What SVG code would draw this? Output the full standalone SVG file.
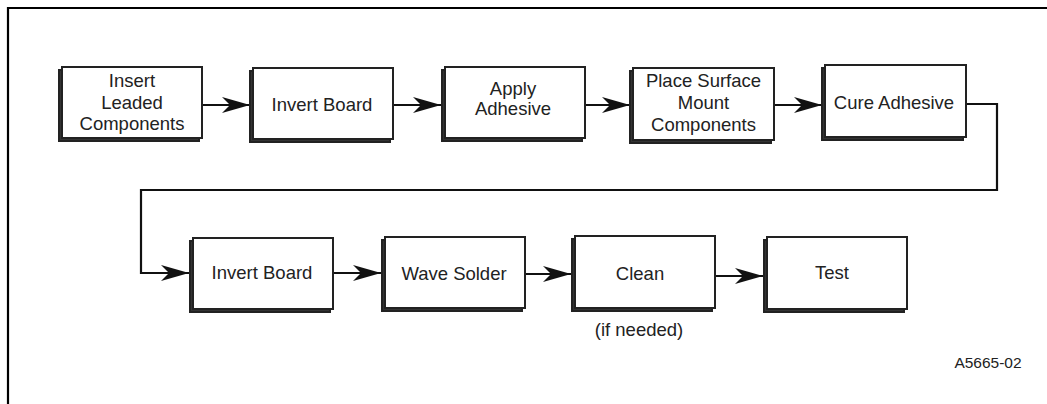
<svg xmlns="http://www.w3.org/2000/svg" width="1047" height="404" viewBox="0 0 1047 404">
<style>
.bk{fill:#333;stroke:#222;stroke-width:2}
.fr{fill:#fff;stroke:#222;stroke-width:2}
.t{font-family:"Liberation Sans",Arial,sans-serif;font-size:18.5px;fill:#222;text-anchor:middle}
.s{font-family:"Liberation Sans",Arial,sans-serif;font-size:15.5px;fill:#222;text-anchor:middle}
.c{fill:none;stroke:#111;stroke-width:2.2}
</style>
<defs>
<marker id="ah" markerUnits="userSpaceOnUse" markerWidth="30" markerHeight="18" viewBox="-29 -9 30 18" refX="0" refY="0" orient="auto">
<path d="M0,0 L-28,-8 L-20,0 L-28,8 Z" fill="#111"/>
</marker>
</defs>
<rect width="1047" height="404" fill="#fff"/>
<path d="M8,404 V8 H1047" fill="none" stroke="#000" stroke-width="2.2"/>

<g id="connectors">
<path class="c" d="M202,105 H250" marker-end="url(#ah)"/>
<path class="c" d="M393,105 H441" marker-end="url(#ah)"/>
<path class="c" d="M585,105 H630" marker-end="url(#ah)"/>
<path class="c" d="M774,105 H822" marker-end="url(#ah)"/>
<path class="c" d="M966,104 H997 V190 H141 V273 H189" marker-end="url(#ah)"/>
<path class="c" d="M333,273 H381" marker-end="url(#ah)"/>
<path class="c" d="M525,274 H571" marker-end="url(#ah)"/>
<path class="c" d="M715,276 H763" marker-end="url(#ah)"/>
</g>

<g id="n1">
<rect class="bk" x="59" y="70" width="140" height="71"/>
<rect class="fr" x="62" y="67" width="140" height="71"/>
<text class="t" x="132" y="87">Insert</text>
<text class="t" x="132" y="108.5">Leaded</text>
<text class="t" x="132" y="130">Components</text>
</g>
<g id="n2">
<rect class="bk" x="250" y="71" width="140" height="71"/>
<rect class="fr" x="253" y="68" width="140" height="71"/>
<text class="t" x="322" y="111">Invert Board</text>
</g>
<g id="n3">
<rect class="bk" x="442" y="70" width="140" height="71"/>
<rect class="fr" x="445" y="67" width="140" height="71"/>
<text class="t" x="513" y="95">Apply</text>
<text class="t" x="513" y="115">Adhesive</text>
</g>
<g id="n4">
<rect class="bk" x="630" y="71" width="141" height="72"/>
<rect class="fr" x="633" y="68" width="141" height="72"/>
<text class="t" x="703.5" y="87">Place Surface</text>
<text class="t" x="703.5" y="109">Mount</text>
<text class="t" x="703.5" y="131">Components</text>
</g>
<g id="n5">
<rect class="bk" x="822" y="68" width="141" height="72"/>
<rect class="fr" x="825" y="65" width="141" height="72"/>
<text class="t" x="894" y="109">Cure Adhesive</text>
</g>

<g id="n6">
<rect class="bk" x="190" y="241" width="140" height="71"/>
<rect class="fr" x="193" y="238" width="140" height="71"/>
<text class="t" x="262" y="279">Invert Board</text>
</g>
<g id="n7">
<rect class="bk" x="382" y="240" width="140" height="71"/>
<rect class="fr" x="385" y="237" width="140" height="71"/>
<text class="t" x="454" y="280">Wave Solder</text>
</g>
<g id="n8">
<rect class="bk" x="572" y="239" width="140" height="72"/>
<rect class="fr" x="575" y="236" width="140" height="72"/>
<text class="t" x="640" y="280">Clean</text>
<text class="t" x="639" y="336">(if needed)</text>
</g>
<g id="n9">
<rect class="bk" x="764" y="240" width="140" height="72"/>
<rect class="fr" x="767" y="237" width="140" height="72"/>
<text class="t" x="832" y="279">Test</text>
</g>
<text class="s" x="988" y="368">A5665-02</text>
</svg>
